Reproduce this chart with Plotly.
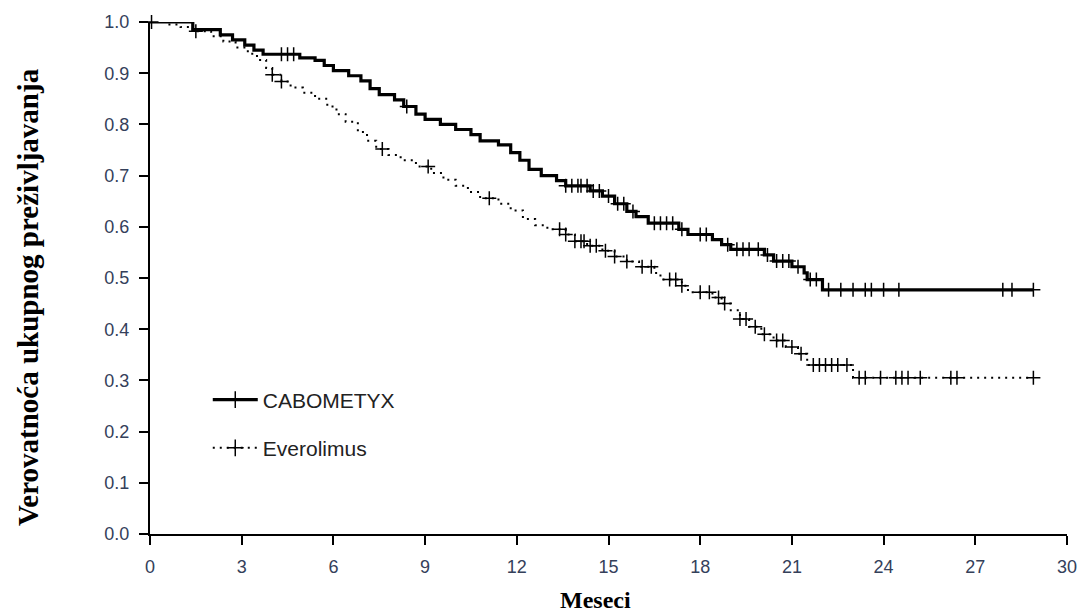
import numpy as np
import plotly.graph_objects as go

# ---- data ----
cabo_t = [0, 1.4, 2.3, 2.7, 3.1, 3.4, 3.7, 4.9, 5.4, 5.7, 6.0, 6.5, 6.9, 7.2, 7.5, 8.0, 8.3, 8.7,
          9.0, 9.5, 10.0, 10.5, 10.8, 11.4, 11.8, 12.1, 12.4, 12.8, 13.3, 13.6, 14.4, 14.8, 15.2,
          15.6, 15.9, 16.3, 17.3, 17.6, 18.4, 18.7, 19.0, 20.1, 20.4, 21.0, 21.4, 21.5, 22.0]
cabo_s = [1.0, 0.985, 0.975, 0.965, 0.955, 0.945, 0.937, 0.93, 0.925, 0.915, 0.905, 0.895, 0.885,
          0.87, 0.858, 0.848, 0.835, 0.82, 0.81, 0.80, 0.79, 0.78, 0.768, 0.76, 0.745, 0.73, 0.712,
          0.70, 0.69, 0.68, 0.67, 0.66, 0.645, 0.63, 0.62, 0.607, 0.595, 0.585, 0.575, 0.565, 0.556,
          0.545, 0.533, 0.522, 0.51, 0.497, 0.477]
cabo_cens = [0.05, 4.3, 4.5, 4.7, 8.4, 13.6, 13.8, 14.0, 14.1, 14.3, 14.5, 14.7, 15.0, 15.3, 15.5,
             15.8, 16.5, 16.7, 16.9, 17.1, 17.4, 18.0, 18.2, 18.9, 19.2, 19.4, 19.6, 19.9, 20.2,
             20.5, 20.7, 20.9, 21.2, 21.6, 21.8, 22.2, 22.6, 23.0, 23.4, 23.6, 24.0, 24.5, 27.9,
             28.2, 28.9]

evero_t = [0, 0.5, 1.0, 1.4, 2.0, 2.4, 2.8, 3.2, 3.5, 3.8, 4.0, 4.3, 4.6, 5.0, 5.4, 5.8, 6.1, 6.4,
           6.8, 7.1, 7.4, 7.8, 8.2, 8.7, 9.2, 9.6, 10.0, 10.4, 10.8, 11.4, 11.8, 12.2, 12.6, 13.0,
           13.6, 13.9, 14.3, 14.8, 15.2, 15.6, 16.0, 16.5, 16.7, 17.4, 17.6, 18.4, 18.7, 19.0,
           19.3, 19.6, 20.0, 20.4, 20.8, 21.2, 21.5, 23.0]
evero_s = [1.0, 0.995, 0.99, 0.982, 0.972, 0.962, 0.95, 0.938, 0.926, 0.91, 0.897, 0.884, 0.872,
           0.862, 0.85, 0.835, 0.82, 0.805, 0.785, 0.768, 0.752, 0.74, 0.73, 0.718, 0.705, 0.692,
           0.68, 0.668, 0.656, 0.645, 0.632, 0.615, 0.603, 0.595, 0.585, 0.572, 0.563, 0.553,
           0.542, 0.532, 0.522, 0.51, 0.497, 0.485, 0.472, 0.462, 0.45, 0.437, 0.42, 0.405, 0.39,
           0.378, 0.365, 0.352, 0.33, 0.305]
evero_cens = [1.5, 4.0, 4.3, 7.6, 9.1, 11.1, 13.4, 13.6, 13.9, 14.1, 14.2, 14.4, 14.6, 14.9, 15.2,
              15.6, 16.1, 16.4, 17.0, 17.2, 17.4, 18.0, 18.3, 18.6, 18.8, 19.3, 19.5, 19.8, 20.1,
              20.5, 20.7, 21.0, 21.3, 21.7, 21.9, 22.1, 22.3, 22.5, 22.8, 23.2, 23.4, 23.9, 24.4,
              24.6, 24.8, 25.2, 26.2, 26.4, 28.9]

x_ticks = [0, 3, 6, 9, 12, 15, 18, 21, 24, 27, 30]
y_ticks = [0.0, 0.1, 0.2, 0.3, 0.4, 0.5, 0.6, 0.7, 0.8, 0.9, 1.0]
x_title = "Meseci"
y_title = "Verovatnoća ukupnog preživljavanja"


def step_value(times, surv, t):
    idx = np.searchsorted(np.array(times), t, side="right") - 1
    return np.array(surv)[idx]


def line_xy(times, surv, cens):
    end = max(max(cens), max(times))
    return list(times) + [end], list(surv) + [surv[-1]]


fig = go.Figure()

series = [
    ("CABOMETYX", cabo_t, cabo_s, cabo_cens, dict(color="black", width=3.2, dash="solid")),
    ("Everolimus", evero_t, evero_s, evero_cens, dict(color="black", width=2, dash="2px,5px")),
]

for name, t, s, c, ln in series:
    lx, ly = line_xy(t, s, c)
    fig.add_trace(go.Scatter(
        x=lx, y=ly, mode="lines", line=dict(shape="hv", **ln),
        name=name, legendgroup=name, showlegend=False, cliponaxis=False, hoverinfo="skip"))
    fig.add_trace(go.Scatter(
        x=c, y=step_value(t, s, c), mode="markers",
        marker=dict(symbol="cross-thin", size=10, line=dict(color="black", width=1.5)),
        name=name, legendgroup=name, showlegend=False, cliponaxis=False))
    fig.add_trace(go.Scatter(
        x=[None], y=[None], mode="lines+markers", line=ln,
        marker=dict(symbol="cross-thin", size=12, line=dict(color="black", width=1.5)),
        name=name, legendgroup=name, showlegend=True))

axis_font = dict(family="Liberation Sans, Arial", size=18, color="#34405a")
xtitle_font = dict(family="Liberation Serif, Times New Roman", size=24, color="black")
ytitle_font = dict(family="Liberation Serif, Times New Roman", size=29, color="black")

common_axis = dict(showline=True, linecolor="black", linewidth=2, ticks="outside",
                   ticklen=9, tickwidth=2, tickcolor="black", showgrid=False, zeroline=False,
                   tickfont=axis_font)

fig.update_layout(
    width=1089, height=616,
    margin=dict(l=150, r=17, t=22, b=82),
    plot_bgcolor="white", paper_bgcolor="white",
    showlegend=True,
    legend=dict(x=0.063, y=0.302, xanchor="left", yanchor="top", itemwidth=45,
                font=dict(family="Liberation Sans, Arial", size=21, color="#222"),
                bgcolor="rgba(0,0,0,0)", tracegroupgap=18),
    xaxis=dict(range=[0, 30], tickvals=x_ticks, ticktext=[str(v) for v in x_ticks],
               ticklabelstandoff=6, **common_axis),
    yaxis=dict(range=[0, 1.0], tickvals=y_ticks, ticktext=[f"{v:.1f}" for v in y_ticks],
               ticklabelstandoff=6, **common_axis),
    annotations=[
        dict(text=f"<b>{x_title}</b>", xref="paper", yref="paper", x=0.5, y=-0.128,
             xshift=-13, xanchor="center", yanchor="middle", showarrow=False, font=xtitle_font),
        dict(text=f"<b>{y_title}</b>", xref="paper", yref="paper", x=0, y=0.463,
             xshift=-122, xanchor="center", yanchor="middle", textangle=-90, showarrow=False,
             font=ytitle_font),
    ],
)

fig.write_html("out.html")
